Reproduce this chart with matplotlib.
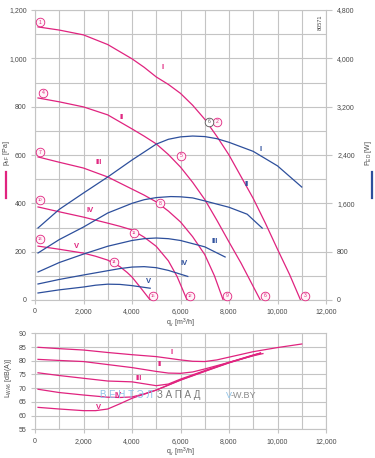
import matplotlib
matplotlib.use("Agg")
import matplotlib.pyplot as plt
from matplotlib.ticker import MultipleLocator, FuncFormatter
from matplotlib.lines import Line2D

plt.rcParams['font.family'] = ['Liberation Sans', 'DejaVu Sans']

# ---------------------------------------------------------------------------
# Data
# ---------------------------------------------------------------------------
speeds = ["I", "II", "III", "IV", "V"]

# static pressure p_sF [Pa] vs. airflow q_v [m3/h]
psf_q = [
    [124, 1000, 2000, 3000, 4000, 4500, 5000, 5500, 6000, 6500, 7000, 7500, 8000,
     8500, 9000, 9500, 10000, 10500, 10950],
    [124, 1000, 2000, 3000, 4000, 4500, 5000, 5500, 6000, 6500, 7000, 7500, 8000,
     8500, 9290],
    [124, 1000, 2000, 3000, 4000, 4500, 5000, 5500, 6000, 6500, 7000, 7400, 7760],
    [124, 1000, 2000, 3000, 3500, 4000, 4500, 5000, 5500, 5860, 6270],
    [124, 1000, 2000, 2500, 3000, 3500, 3800, 4000, 4330, 4750],
]
psf_val = [
    [1130, 1117, 1097, 1057, 998, 963, 923, 892, 855, 806, 748, 677, 600,
     510, 420, 318, 210, 105, 0],
    [836, 820, 799, 766, 708, 678, 646, 602, 550, 487, 416, 330, 240,
     152, 0],
    [592, 570, 546, 509, 459, 434, 406, 368, 323, 262, 188, 100, 0],
    [385, 365, 343, 318, 305, 290, 260, 222, 162, 97, 0],
    [223, 210, 194, 181, 165, 138, 114, 95, 54, 0],
]

# electrical power P_ED [W]
ped_q = [
    [124, 1000, 2000, 3000, 4000, 5000, 5500, 6000, 6500, 7000, 7500, 8000, 9000,
     10000, 11000],
    [124, 1000, 2000, 3000, 4000, 4500, 5000, 5600, 6000, 6500, 7000, 8000, 8750, 9370],
    [124, 1000, 2000, 3000, 4000, 4500, 5000, 5500, 6000, 7000, 7840],
    [124, 1000, 2000, 3000, 3500, 4000, 4500, 5000, 5500, 6300],
    [124, 1000, 2000, 2500, 3000, 3500, 4000, 4750],
]
ped_val = [
    [1192, 1500, 1771, 2036, 2317, 2580, 2660, 2700, 2714, 2705, 2670, 2610, 2460,
     2220, 1870],
    [778, 1000, 1208, 1440, 1600, 1660, 1695, 1712, 1708, 1690, 1640, 1535, 1420, 1190],
    [463, 620, 760, 890, 985, 1015, 1026, 1015, 985, 880, 712],
    [265, 340, 414, 485, 520, 545, 552, 535, 490, 390],
    [116, 168, 215, 245, 262, 258, 238, 195],
]

# sound power L_WA6 [dB(A)]
lwa_q = [
    [124, 1000, 2000, 3000, 4000, 5000, 5500, 6000, 6500, 7000, 7500, 8000, 9000,
     10000, 11000],
    [124, 1000, 2000, 3000, 4000, 5000, 5500, 6000, 6500, 7000, 8000, 9000, 9400],
    [124, 1000, 2000, 3000, 4000, 4500, 5000, 5500, 6000, 7000, 8000, 9000, 9300],
    [124, 1000, 2000, 3000, 3500, 4000, 4500, 5000, 6000, 7000, 8000, 9000, 9300],
    [124, 1000, 2000, 2500, 3000, 3500, 4000, 5000, 6000, 7000, 8000, 9000, 9300],
]
lwa_val = [
    [84.9, 84.4, 83.9, 83.0, 82.2, 81.5, 80.9, 80.3, 79.8, 79.7, 80.3, 81.3, 83.3,
     84.8, 86.1],
    [80.5, 80.1, 79.7, 78.6, 77.5, 76.1, 75.5, 75.4, 75.9, 77.0, 79.4, 81.8, 82.6],
    [75.6, 74.6, 73.6, 72.6, 72.3, 71.6, 70.9, 71.5, 73.3, 76.4, 79.4, 82.1, 82.8],
    [69.6, 68.4, 67.5, 66.7, 66.6, 66.8, 67.9, 69.3, 73.0, 76.2, 79.3, 82.0, 82.8],
    [63.0, 62.4, 61.8, 61.8, 62.4, 64.3, 66.3, 69.3, 72.9, 76.1, 79.2, 81.9, 82.7],
]

# ---------------------------------------------------------------------------
# Styling
# ---------------------------------------------------------------------------
MAG = "#e0237f"
BLUE = "#2d4f9c"
GRID = "#c4c4c4"
TXT = "#4a4a4a"
W, H = 375, 458

def fx(px):
    return px / W

def fy(py):
    return 1 - py / H

comma = FuncFormatter(lambda v, p: f"{int(v):,}")

fig = plt.figure(figsize=(W / 100, H / 100), dpi=100)

def style(ax):
    for s in ax.spines.values():
        s.set_color(GRID)
        s.set_linewidth(0.8)
    ax.grid(True, which="both", color=GRID, linewidth=0.8)
    ax.set_axisbelow(True)
    ax.tick_params(which="major", labelsize=5, colors=GRID, labelcolor=TXT,
                   length=3, width=0.8, pad=3)
    ax.tick_params(which="minor", length=0)
    ax.set_xlim(0, 12000)
    ax.xaxis.set_major_locator(MultipleLocator(2000))
    ax.xaxis.set_minor_locator(MultipleLocator(1000))
    ax.xaxis.set_major_formatter(comma)

# ---------------- top panel --------------------------------------------------
ax = fig.add_axes([fx(35), fy(300), fx(326) - fx(35), fy(10) - fy(300)])
style(ax)
ax.set_ylim(0, 1200)
ax.yaxis.set_major_locator(MultipleLocator(200))
ax.yaxis.set_minor_locator(MultipleLocator(100))
ax.yaxis.set_major_formatter(comma)

axr = ax.twinx()
axr.set_ylim(0, 4800)
axr.yaxis.set_major_locator(MultipleLocator(800))
axr.yaxis.set_major_formatter(comma)
axr.tick_params(labelsize=5, colors=GRID, labelcolor=TXT, length=4, width=0.8, pad=4)
for s in axr.spines.values():
    s.set_visible(False)

for q, v in zip(psf_q, psf_val):
    ax.plot(q, v, color=MAG, lw=0.9, zorder=3, solid_joinstyle="round")
for q, v in zip(ped_q, ped_val):
    axr.plot(q, v, color=BLUE, lw=0.9, zorder=3, solid_joinstyle="round")

# roman numerals next to curves
psf_lab = [(5280, 964), (3590, 757), (2640, 567), (2270, 372), (1730, 223)]
ped_lab = [(9290, 2483), (8710, 1920), (7390, 976), (6150, 596), (4700, 298)]
for s, (x, y) in zip(speeds, psf_lab):
    ax.text(x, y, s, color=MAG, fontsize=5.5, fontweight="bold", ha="center", va="center")
for s, (x, y) in zip(speeds, ped_lab):
    axr.text(x, y, s, color=BLUE, fontsize=5.5, fontweight="bold", ha="center", va="center")

# circled operating-point numbers
points = [
    (206, 1150), (7511, 737), (11143, 17),
    (330, 857), (6025, 596), (9492, 17),
    (206, 612), (5159, 401), (7924, 17),
    (206, 414), (4086, 277), (6397, 17),
    (206, 252), (3260, 157), (4870, 17),
]
for i, (x, y) in enumerate(points, start=1):
    ax.plot(x, y, "o", ms=6.2, mfc="#fff4f8", mec=MAG, mew=0.6, zorder=5, clip_on=False)
    ax.text(x, y, str(i), color=MAG, fontsize=3.6 if i < 10 else 3.0,
            ha="center", va="center", zorder=6)
ax.plot(7181, 737, "o", ms=6.2, mfc="white", mec="#555555", mew=0.6, zorder=5)
ax.text(7181, 737, "6", color="#555555", fontsize=3.6, ha="center", va="center", zorder=6)

ax.text(11760, 1150, "80571", rotation=90, fontsize=4, color=TXT, ha="center", va="center")

fig.text(fx(180.5), fy(323), r"$\mathregular{q_v}$ [m$\mathregular{^3}$/h]", fontsize=5,
         color=TXT, ha="center", va="center")
fig.text(fx(6.5), fy(153), r"$\mathregular{p_{sF}}$ [Pa]", fontsize=5, color=TXT,
         rotation=90, ha="center", va="center")
fig.add_artist(Line2D([fx(6), fx(6)], [fy(172), fy(198)], color=MAG, lw=1.6))
fig.text(fx(368), fy(153), r"$\mathregular{P_{ED}}$ [W]", fontsize=5, color=TXT,
         rotation=90, ha="center", va="center")
fig.add_artist(Line2D([fx(372), fx(372)], [fy(172), fy(198)], color=BLUE, lw=1.6))

# ---------------- bottom panel -----------------------------------------------
axb = fig.add_axes([fx(35), fy(429.3), fx(326) - fx(35), fy(333.3) - fy(429.3)])
style(axb)
axb.set_ylim(55, 90)
axb.yaxis.set_major_locator(MultipleLocator(5))

for q, v in zip(lwa_q, lwa_val):
    axb.plot(q, v, color=MAG, lw=0.9, zorder=3, solid_joinstyle="round")

lwa_lab = [(5650, 83.0), (5120, 78.5), (4290, 73.4), (3430, 67.5), (2600, 63.0)]
for s, (x, y) in zip(speeds, lwa_lab):
    axb.text(x, y, s, color=MAG, fontsize=5.5, fontweight="bold", ha="center", va="center")

fig.text(fx(180.5), fy(452), r"$\mathregular{q_v}$ [m$\mathregular{^3}$/h]", fontsize=5,
         color=TXT, ha="center", va="center")
fig.text(fx(8), fy(378), r"$\mathregular{L_{WA6}}$ [dB(A)]", fontsize=5, color=TXT,
         rotation=90, ha="center", va="center")

# watermark
fig.text(fx(100), fy(395), "В Е Н Т Э Л", fontsize=7, color="#8fc3e8",
         ha="left", va="center")
fig.text(fx(157), fy(395), "З А П А Д", fontsize=7, color="#7a7a7a",
         ha="left", va="center")
fig.text(fx(226), fy(395), "V", fontsize=6.5, color="#8fc3e8", ha="left", va="center")
fig.text(fx(231), fy(395), "-W.BY", fontsize=6.5, color="#8a8a8a", ha="left", va="center")

fig.savefig("out.png", dpi=100)
